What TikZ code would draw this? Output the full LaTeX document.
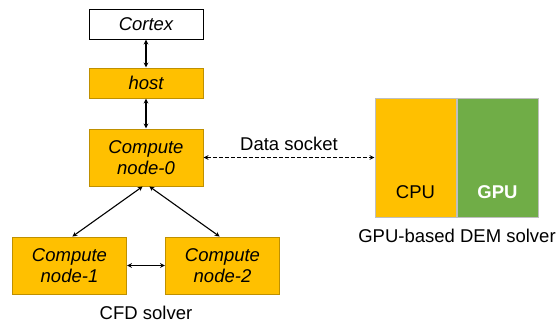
\documentclass[tikz,border=0pt]{standalone}
\usepackage{fontspec}
\setmainfont{Liberation Sans}
\definecolor{amber}{HTML}{FFC000}
\definecolor{leaf}{HTML}{70AD47}
\begin{document}
\begin{tikzpicture}[>=stealth,x=1pt,y=-1pt,
    box/.style={draw=amber!75!black,fill=amber,minimum width=114pt,inner sep=0pt,
      align=center,font=\fontsize{18.5}{21.5}\selectfont\itshape},
    unit/.style={draw=black!25,minimum width=81pt,minimum height=119pt,inner sep=0pt},
    txt/.style={font=\fontsize{18.5}{21.5}\selectfont},
    link/.style={<->,line width=1.1pt,shorten <=0.5pt,shorten >=0.5pt}]
    \useasboundingbox (0,0) rectangle (556,327);
    % CFD side
    \node[box,fill=white,draw=black,minimum height=30pt] (cortex) at (146,24) {Cortex};
    \node[box,minimum height=30pt] (host) at (146,83) {host};
    \node[box,minimum height=57pt] (node0) at (146,157.5) {Compute\\node-0};
    \node[box,minimum height=57pt] (node1) at (69.5,265.5) {Compute\\node-1};
    \node[box,minimum height=57pt] (node2) at (222.5,265.5) {Compute\\node-2};
    \node[txt] (cfd) at (146,313) {CFD solver};
    \draw[link] (cortex) -- (host);
    \draw[link] (host) -- (node0);
    \draw[link] ([xshift=-3pt]node0.south) -- ([xshift=2.5pt]node1.north);
    \draw[link] ([xshift=3pt]node0.south) -- ([xshift=-2.5pt]node2.north);
    \draw[link] (node1) -- (node2);
    % DEM side
    \node[unit,fill=amber] (cpu) at (415.5,157.5) {};
    \node[unit,fill=leaf] (gpu) at (497.5,157.5) {};
    \node[txt] (cputxt) at (415.5,192) {CPU};
    \node[txt,text=white,font=\fontsize{18.5}{21.5}\selectfont\bfseries] (gputxt) at (497.5,192) {GPU};
    \node[txt] (dem) at (457,236) {GPU-based DEM solver};
    \draw[link,dash pattern=on 4pt off 2pt] (node0) -- node[txt,above=3pt] (sock) {Data socket} (cpu);
\end{tikzpicture}
\end{document}
